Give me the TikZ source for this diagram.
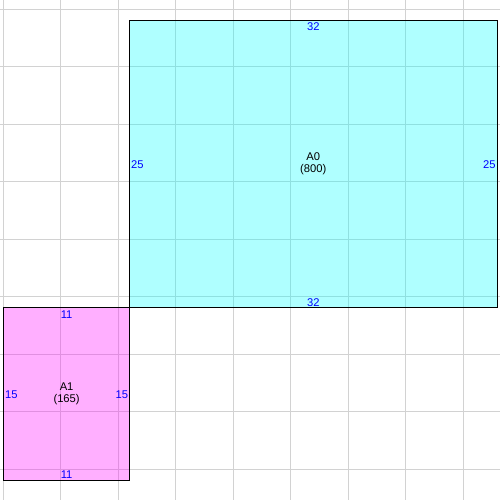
\documentclass[tikz,border=0pt]{standalone}
\usepackage{fontspec}
\setmainfont{Liberation Sans}
\usetikzlibrary{calc}
\definecolor{gridgray}{RGB}{210,210,210}
\definecolor{dimblue}{RGB}{0,0,255}
\definecolor{cyanf}{RGB}{0,255,255}
\definecolor{magf}{RGB}{255,0,255}
\tikzset{
  gridline/.style={draw=gridgray, line width=0.75pt},
  rectbox/.style={draw=black, line width=0.8pt, fill opacity=0.314, text opacity=1, inner sep=0pt, align=center,
    font=\fontsize{8.4}{9}\selectfont},
  dim/.style={text=dimblue, inner sep=0pt, font=\fontsize{8.4}{9}\selectfont},
}
\begin{document}
\begin{tikzpicture}[x=0.75pt,y=-0.75pt]
\useasboundingbox (0,0) rectangle (500,500);
\fill[white] (0,0) rectangle (500,500);
% grid
\foreach \k in {0,...,8} {
  \draw[gridline] ({3.3+57.5*\k},0) -- ({3.3+57.5*\k},500);
  \draw[gridline] (0,{9.3+57.5*\k}) -- (500,{9.3+57.5*\k});
}
% rooms
\node[rectbox, fill=cyanf, minimum width=276pt, minimum height=215.4pt] (A0) at (313.3,163.9) {A0\\(800)};
\node[rectbox, fill=magf, minimum width=94.9pt, minimum height=129.4pt] (A1) at (66.6,393.8) {A1\\(165)};
% dimensions A0
\node[dim, anchor=base] (A0t) at ($(A0.north)+(0,11)$) {32};
\node[dim, anchor=base] (A0b) at ($(A0.south)+(0,-2)$) {32};
\node[dim, anchor=base west] (A0l) at ($(A0.west)+(2,4.2)$) {25};
\node[dim, anchor=base east] (A0r) at ($(A0.east)+(-2,4.2)$) {25};
% dimensions A1
\node[dim, anchor=base] (A1t) at ($(A1.north)+(0,11)$) {11};
\node[dim, anchor=base] (A1b) at ($(A1.south)+(0,-2)$) {11};
\node[dim, anchor=base west] (A1l) at ($(A1.west)+(2,4.2)$) {15};
\node[dim, anchor=base east] (A1r) at ($(A1.east)+(-2,4.2)$) {15};
\end{tikzpicture}
\end{document}
